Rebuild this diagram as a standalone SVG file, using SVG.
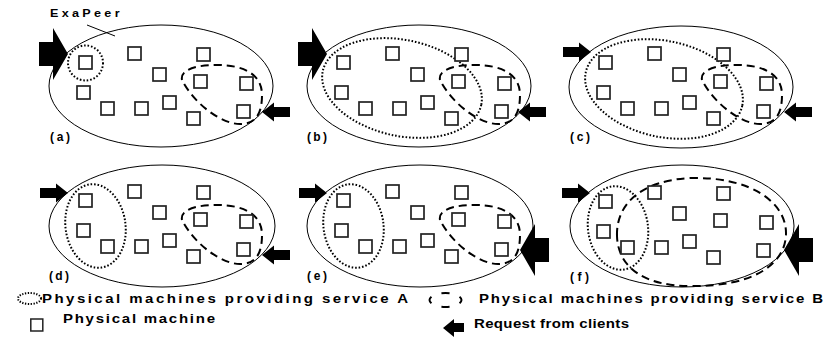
<svg xmlns="http://www.w3.org/2000/svg" width="834" height="345" viewBox="0 0 834 345">
<style>
text{font-family:"Liberation Sans",Arial,Helvetica,sans-serif;font-weight:bold;fill:#000}
.lbl{font-size:12px}
.leg{font-size:12px}
.ttl{font-size:10.5px}
.peer{fill:none;stroke:#000;stroke-width:1}
.dot{fill:none;stroke:#000;stroke-width:2;stroke-dasharray:1.6 1.9}
.dash{fill:none;stroke:#000;stroke-width:2;stroke-dasharray:8 5}
</style>
<defs>
<g id="pms" fill="#fff" stroke="#222" stroke-width="1.7">
<rect x="79" y="56" width="13" height="13"/>
<rect x="128" y="47" width="13" height="13"/>
<rect x="197" y="48" width="13" height="13"/>
<rect x="153" y="68" width="13" height="13"/>
<rect x="194" y="75" width="13" height="13"/>
<rect x="240" y="77" width="13" height="13"/>
<rect x="77" y="86" width="13" height="13"/>
<rect x="101" y="102" width="13" height="13"/>
<rect x="135" y="102" width="13" height="13"/>
<rect x="163" y="96" width="13" height="13"/>
<rect x="187" y="112" width="13" height="13"/>
<rect x="237" y="105" width="13" height="13"/>
</g>
<path id="svcB" fill="none" stroke="#000" stroke-width="2" stroke-dasharray="8 5" d="M182,80 C180,70 195,65 217,65 C245,65 262,75 262,95 C262,115 255,124 240,124 C222,124 195,105 182,80 Z"/>
<polygon id="arrS" points="0,0 -12,-9.5 -12,-5 -28,-5 -28,5 -12,5 -12,9.5"/>
<polygon id="arrL" points="0,0 -15,-26 -15,-12 -29,-12 -29,12 -15,12 -15,26"/>
</defs>
<rect width="834" height="345" fill="#fff"/>

<g id="panel-a">
<ellipse class="peer" cx="161" cy="86" rx="112" ry="61"/>
<line x1="87" y1="25" x2="115" y2="36" stroke="#000" stroke-width="1"/>
<text class="ttl" transform="translate(50,17) scale(1.2,1)" textLength="58" lengthAdjust="spacing">ExaPeer</text>
<circle class="dot" cx="85.5" cy="63" r="17.5"/>
<use href="#svcB"/>
<use href="#pms"/>
<use href="#arrL" transform="translate(68,54)"/>
<use href="#arrS" transform="translate(262,112) scale(-1,1)"/>
<text class="lbl" x="50" y="141" textLength="20" lengthAdjust="spacing">(a)</text>
</g>

<g id="panel-b">
<ellipse class="peer" cx="419" cy="86" rx="112" ry="61"/>
<ellipse class="dot" cx="402" cy="88" rx="81" ry="48" transform="rotate(12 402 88)"/>
<use href="#svcB" transform="translate(258,0)"/>
<use href="#pms" transform="translate(258,0)"/>
<use href="#arrL" transform="translate(327,54)"/>
<use href="#arrS" transform="translate(518,112) scale(-1,1)"/>
<text class="lbl" x="307" y="140.5" textLength="20" lengthAdjust="spacing">(b)</text>
</g>

<g id="panel-c">
<ellipse class="peer" cx="681" cy="87" rx="112" ry="61"/>
<ellipse class="dot" cx="664" cy="89" rx="80" ry="48" transform="rotate(12 664 89)"/>
<use href="#svcB" transform="translate(520,0)"/>
<use href="#pms" transform="translate(520,0)"/>
<use href="#arrS" transform="translate(591,52)"/>
<use href="#arrS" transform="translate(784,112) scale(-1,1)"/>
<text class="lbl" x="570" y="141" textLength="20" lengthAdjust="spacing">(c)</text>
</g>

<g id="panel-d">
<ellipse class="peer" cx="162" cy="226" rx="113" ry="61"/>
<ellipse class="dot" cx="95.5" cy="226" rx="30" ry="42" transform="rotate(-8 95.5 226)"/>
<use href="#svcB" transform="translate(0,140)"/>
<use href="#pms" transform="translate(0,138)"/>
<use href="#arrS" transform="translate(68,193)"/>
<use href="#arrS" transform="translate(262,255) scale(-1,1)"/>
<text class="lbl" x="49" y="280" textLength="20" lengthAdjust="spacing">(d)</text>
</g>

<g id="panel-e">
<ellipse class="peer" cx="420" cy="226" rx="113" ry="61"/>
<ellipse class="dot" cx="353.5" cy="226" rx="30" ry="42" transform="rotate(-8 353.5 226)"/>
<use href="#svcB" transform="translate(258,140)"/>
<use href="#pms" transform="translate(258,138)"/>
<use href="#arrS" transform="translate(327,193)"/>
<use href="#arrL" transform="translate(520,250) scale(-1,1)"/>
<text class="lbl" x="307" y="280" textLength="20" lengthAdjust="spacing">(e)</text>
</g>

<g id="panel-f">
<ellipse class="peer" cx="682" cy="226" rx="112" ry="61"/>
<ellipse class="dot" cx="618" cy="228" rx="30" ry="42" transform="rotate(-8 618 228)"/>
<path class="dash" d="M617,236 C616,205 640,180 692,178 C752,177 786,203 786,233 C786,266 750,287 690,286 C645,286 618,268 617,236 Z"/>
<use href="#pms" transform="translate(520,139)"/>
<use href="#arrS" transform="translate(590,193)"/>
<use href="#arrL" transform="translate(784,250) scale(-1,1)"/>
<text class="lbl" x="570" y="280.5" textLength="19" lengthAdjust="spacing">(f)</text>
</g>

<g id="legend">
<ellipse class="dot" cx="29.5" cy="298.5" rx="11.5" ry="5.5" stroke-width="1.6" style="stroke-dasharray:1.3 1.5"/>
<text class="leg" transform="translate(42,302.5) scale(1.25,1)" textLength="292.8" lengthAdjust="spacing">Physical machines providing service A</text>
<rect x="30.8" y="319" width="12" height="12" fill="#fff" stroke="#222" stroke-width="1.5"/>
<text class="leg" transform="translate(63,322.5) scale(1.25,1)" textLength="121.6" lengthAdjust="spacing">Physical machine</text>
<ellipse cx="445.5" cy="300" rx="16" ry="7" fill="none" stroke="#000" stroke-width="2" pathLength="100" stroke-dasharray="11 14" stroke-dashoffset="5.5"/>
<text class="leg" transform="translate(479,302.5) scale(1.25,1)" textLength="275.2" lengthAdjust="spacing">Physical machines providing service B</text>
<polygon points="443,328 454,319 454,323 464,323 464,332 454,332 454,337"/>
<text class="leg" transform="translate(474,327.5) scale(1.25,1)" textLength="124" lengthAdjust="spacing">Request from clients</text>
</g>
</svg>
